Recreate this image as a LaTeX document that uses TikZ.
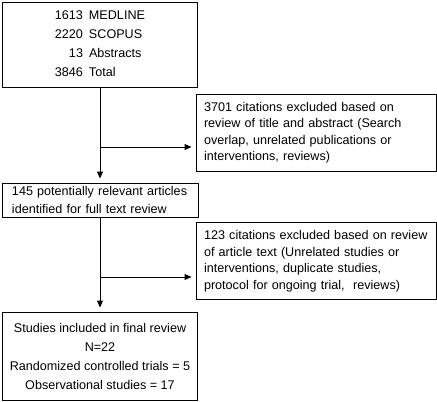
\documentclass[tikz,border=0pt]{standalone}
\usepackage{fontspec}
\setmainfont{Liberation Sans}
\usetikzlibrary{arrows.meta}
\begin{document}
\begin{tikzpicture}[x=1pt,y=-1pt,color={black},
  box/.style={draw,line width=1pt,inner sep=0pt,font=\fontsize{12.6}{19}\selectfont},
  notebox/.style={box,inner xsep=8pt,text width=224pt,minimum height=77pt,align=left,font=\fontsize{12.6}{16.5}\selectfont},
  flow/.style={line width=1pt,shorten >=4pt,-{Triangle[length=7pt,width=6pt]}}]
\useasboundingbox (0,0) rectangle (437,402);
\node[box,minimum width=195pt,minimum height=85pt] (src) at (100,44.5) {\begin{tabular}{@{}r@{\hspace{6pt}}l@{}}1613 & MEDLINE\\2220 & SCOPUS\\13 & Abstracts\\3846 & Total\end{tabular}};
\node[notebox] (ex1) at (316,132.5) {3701 citations excluded based on\\review of title and abstract (Search\\overlap, unrelated publications or\\interventions, reviews)};
\node[box,inner xsep=10pt,text width=176pt,minimum height=34pt,align=left,font=\fontsize{12.6}{18}\selectfont] (full) at (100,200) {145 potentially relevant articles\\identified for full text review};
\node[notebox] (ex2) at (316,261) {123 citations excluded based on review\\of article text (Unrelated studies or\\interventions, duplicate studies,\\protocol for ongoing trial,\ \ reviews)};
\node[box,minimum width=195pt,minimum height=88pt,align=center] (incl) at (100,356) {Studies included in final review\\N=22\\Randomized controlled trials = 5\\Observational studies = 17};
% arrows
\coordinate (j1) at (100,147);
\coordinate (j2) at (100,277);
\draw[flow] (src.south) -- (full.north);
\draw[flow] (j1) -- (j1 -| ex1.west);
\draw[flow] (full.south) -- (incl.north);
\draw[flow] (j2) -- (j2 -| ex2.west);
\end{tikzpicture}
\end{document}
